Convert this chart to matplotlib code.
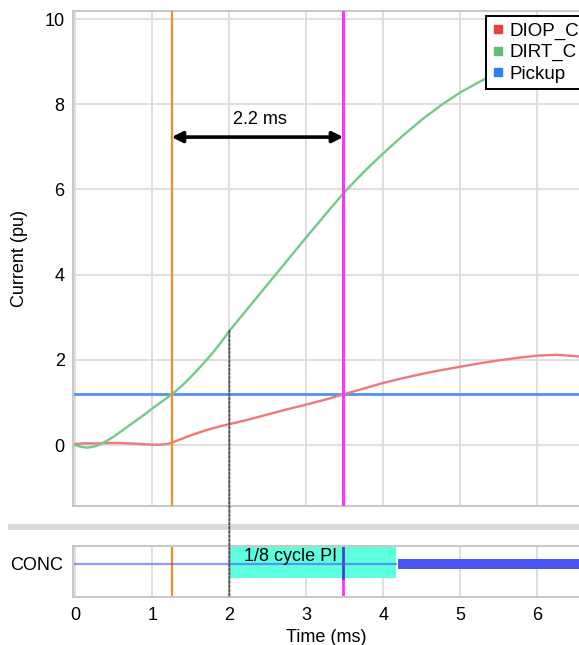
import matplotlib
matplotlib.use("Agg")
import matplotlib.pyplot as plt
from matplotlib.lines import Line2D
from matplotlib.patches import ConnectionPatch, Rectangle

plt.rcParams['font.family'] = ['Liberation Sans', 'DejaVu Sans']
plt.rcParams['font.size'] = 13

# ---- data ----
time_ms = [0.0, 0.05, 0.1, 0.15, 0.2, 0.25, 0.3, 0.4, 0.5, 0.6, 0.7, 0.8, 0.9, 1.0,
           1.1, 1.2, 1.25, 1.3, 1.4, 1.5, 1.6, 1.7, 1.8, 1.9, 2.0, 2.25, 2.5, 2.75,
           3.0, 3.25, 3.5, 3.75, 4.0, 4.25, 4.5, 4.75, 5.0, 5.25, 5.5, 5.75, 6.0,
           6.25, 6.54]
dirt_c = [0.0, -0.03, -0.05, -0.06, -0.05, -0.03, 0.0, 0.09, 0.2, 0.33, 0.46, 0.59,
          0.72, 0.86, 0.99, 1.12, 1.19, 1.26, 1.42, 1.6, 1.79, 1.99, 2.2, 2.43, 2.68,
          3.23, 3.78, 4.33, 4.88, 5.42, 5.95, 6.42, 6.85, 7.26, 7.64, 7.98, 8.28,
          8.53, 8.75, 8.93, 9.07, 9.18, 9.26]
diop_c = [0.03, 0.03, 0.04, 0.04, 0.04, 0.04, 0.04, 0.05, 0.05, 0.05, 0.04, 0.03,
          0.02, 0.01, 0.01, 0.03, 0.05, 0.09, 0.16, 0.23, 0.29, 0.35, 0.4, 0.45,
          0.49, 0.6, 0.72, 0.84, 0.95, 1.07, 1.2, 1.33, 1.46, 1.57, 1.67, 1.76,
          1.84, 1.92, 1.99, 2.05, 2.10, 2.12, 2.08]
pickup = 1.19
t_dirt_pickup = 1.25     # orange marker
t_diop_pickup = 3.48     # magenta marker
t_pi_start = 2.0
t_pi_end = 4.17
t_conc_on = 4.19
dirt_at_pi_start = 2.68
delta_label = "2.2 ms"
pi_label = "1/8 cycle PI"
legend_labels = ["DIOP_C", "DIRT_C", "Pickup"]
legend_colors = ["#e8403f", "#5cbf75", "#2f80f0"]
x_ticks = [0, 1, 2, 3, 4, 5, 6]
y_ticks = [0, 2, 4, 6, 8, 10]

W, H = 579, 645
fig = plt.figure(figsize=(W / 100, H / 100), dpi=100)

xl = (-0.03, 6.54)
grid_c = '#dcdcdc'
spine_c = '#c8c8c8'
orange = '#f0902a'
magenta = '#ff33ff'

# ---- main axes ----
ax = fig.add_axes([73 / W, (H - 506) / H, (W - 73) / W, (506 - 11) / H])
ax.set_xlim(*xl)
ax.set_ylim(-1.43, 10.19)
ax.set_xticks(x_ticks)
ax.set_yticks(y_ticks)
ax.tick_params(axis='x', length=0, labelbottom=False)
ax.tick_params(axis='y', length=0, pad=6, labelsize=13)
ax.grid(True, color=grid_c, lw=1.3)
ax.set_axisbelow(True)
for s in ['left', 'bottom', 'top']:
    ax.spines[s].set_color(spine_c)
    ax.spines[s].set_linewidth(1.5)
ax.spines['right'].set_visible(False)
ax.set_ylabel("Current (pu)", fontsize=13, labelpad=12)

ax.plot(time_ms, diop_c, color='#f07878', lw=1.7, zorder=3)
ax.plot(time_ms, dirt_c, color='#72c98c', lw=1.7, zorder=3)
ax.axhline(pickup, color='#4f94f0', lw=2.0, zorder=2)
ax.axvline(t_dirt_pickup, color=orange, lw=1.6, zorder=4)
ax.axvline(t_diop_pickup, color=magenta, lw=2.2, zorder=4)

ax.annotate('', xy=(t_dirt_pickup, 7.23), xytext=(t_diop_pickup, 7.23),
            arrowprops=dict(arrowstyle='<|-|>', color='black', lw=2.6,
                            mutation_scale=16, shrinkA=0, shrinkB=0), zorder=5)
ax.text((t_dirt_pickup + t_diop_pickup) / 2 + 0.03, 7.65, delta_label,
        ha='center', va='center', fontsize=13)

handles = [Line2D([], [], marker='s', ls='none', color=c, markersize=6) for c in legend_colors]
leg = fig.legend(handles, legend_labels, loc='upper left',
                 bbox_to_anchor=(486 / W, 1 - 16 / H), fontsize=13.5,
                 frameon=True, fancybox=False, shadow=False,
                 handlelength=0.6, handletextpad=0.3, labelspacing=0.22,
                 borderpad=0.35, borderaxespad=0)
leg.get_frame().set_edgecolor('black')
leg.get_frame().set_linewidth(1.4)
leg.get_frame().set_alpha(1)
leg.set_zorder(10)

# ---- CONC axes ----
ax2 = fig.add_axes([73 / W, (H - 597) / H, (W - 73) / W, (597 - 546) / H])
ax2.set_xlim(*xl)
ax2.set_ylim(0, 1)
ax2.set_xticks(x_ticks)
ax2.set_yticks([0.65])
ax2.set_yticklabels(["CONC"])
ax2.tick_params(axis='x', length=0, pad=7, labelsize=13)
ax2.tick_params(axis='y', length=0, pad=7, labelsize=13)
ax2.grid(True, axis='x', color=grid_c, lw=1.3)
ax2.set_axisbelow(True)
for s in ['left', 'bottom', 'top']:
    ax2.spines[s].set_color(spine_c)
    ax2.spines[s].set_linewidth(1.5)
ax2.spines['right'].set_visible(False)
ax2.set_xlabel("Time (ms)", fontsize=13, labelpad=4)

ax2.axvline(t_dirt_pickup, color=orange, lw=1.6, zorder=1)
ax2.axvline(t_diop_pickup, color=magenta, lw=2.0, zorder=0.5)
ax2.axvspan(t_pi_start, t_pi_end, ymin=0.37, ymax=1.0, color='#5cffde', lw=0, zorder=1)
ax2.plot([t_diop_pickup, t_diop_pickup], [0.37, 1.0], color='#4a3fd0', lw=2.0, zorder=2)
ax2.plot([xl[0], t_pi_end], [0.65, 0.65], color='#5050ff', alpha=0.6, lw=1.6, zorder=2)
ax2.plot([t_conc_on, xl[1]], [0.65, 0.65], color='#4a55f2', lw=7.2,
         solid_capstyle='butt', zorder=2)
ax2.text(2.8, 0.80, pi_label, ha='center', va='center', fontsize=13, zorder=3)

# dotted link from DIRT_C at PI start down through CONC panel
con = ConnectionPatch(xyA=(t_pi_start, dirt_at_pi_start), coordsA=ax.transData,
                      xyB=(t_pi_start, 0), coordsB=ax2.transData,
                      color='#5a5a5a', lw=1.5, linestyle=(0, (1, 1)), zorder=6)
fig.add_artist(con)

# separator band between panels
fig.add_artist(Rectangle((8 / W, (H - 530) / H), 1, 6 / H, transform=fig.transFigure,
                         facecolor='#dadada', edgecolor='none', zorder=0))

fig.savefig("out.png", dpi=100)
